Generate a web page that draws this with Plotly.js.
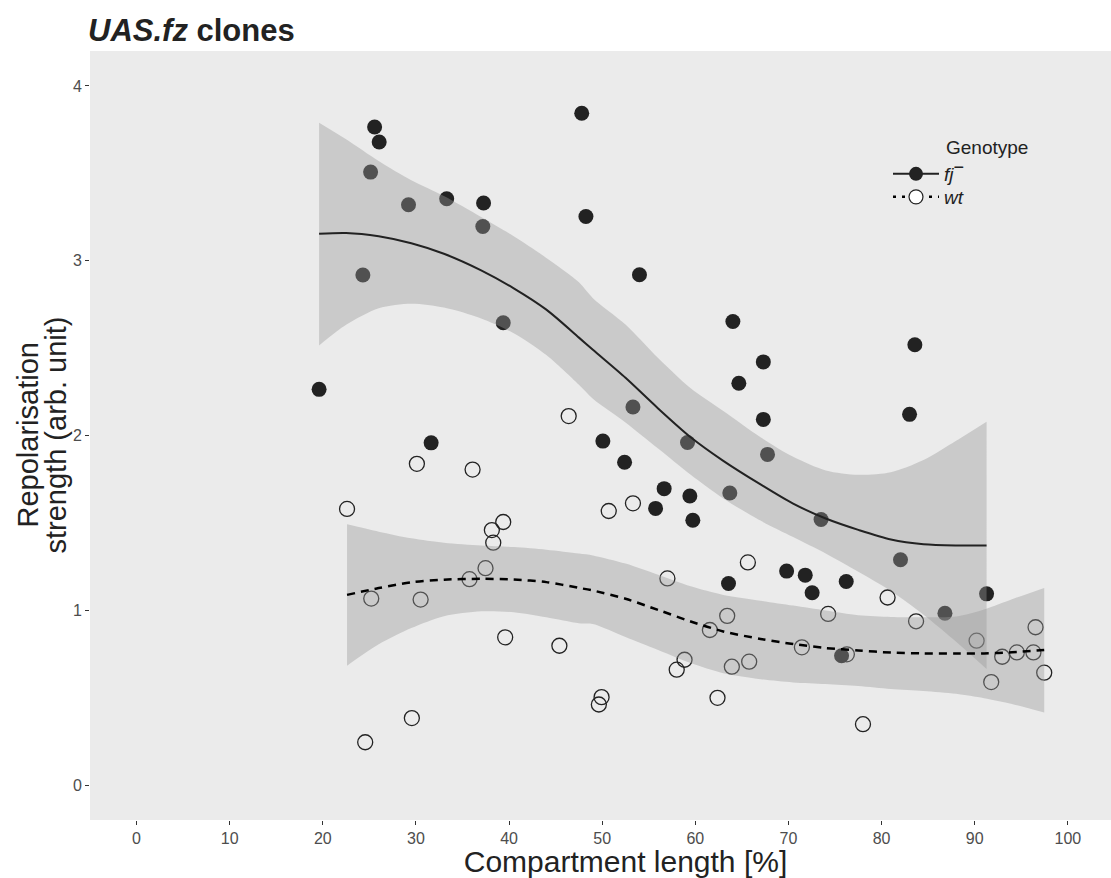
<!DOCTYPE html>
<html>
<head>
<meta charset="utf-8">
<script src="https://cdn.plot.ly/plotly-3.0.1.min.js"></script>
<style>
html,body{margin:0;padding:0;overflow:hidden;background:#fff;}
#chart{width:1162px;height:878px;}
</style>
</head>
<body>
<div id="chart"></div>
<script>
// fj- observations (compartment length %, repolarisation strength)
const fjX = [19.6,24.3,25.13,25.56,26.05,29.2,31.63,33.3,37.18,37.26,39.37,47.8,48.25,50.07,52.4,53.3,54.0,55.73,56.65,59.16,59.41,59.73,63.56,63.7,64.03,64.67,67.3,67.3,67.75,69.8,71.8,72.54,73.5,75.7,76.2,82.03,83.0,83.57,86.8,91.27];
const fjY = [2.264,2.918,3.507,3.765,3.679,3.32,1.958,3.355,3.196,3.33,2.645,3.844,3.253,1.968,1.847,2.163,2.92,1.583,1.696,1.96,1.654,1.515,1.153,1.671,2.652,2.299,2.421,2.092,1.892,1.224,1.201,1.10,1.519,0.74,1.165,1.289,2.121,2.519,0.983,1.094];
// wt observations
const wtX = [22.6,24.55,25.2,29.56,30.1,30.5,35.75,36.08,37.47,38.15,38.3,39.37,39.58,45.4,46.4,49.64,49.93,50.7,53.3,57.0,58.0,58.84,61.56,62.38,63.42,63.92,65.64,65.78,71.44,74.26,76.27,78.0,80.64,83.7,90.2,91.77,92.95,94.52,96.3,96.53,97.46];
const wtY = [1.58,0.245,1.067,0.383,1.838,1.061,1.178,1.805,1.241,1.459,1.387,1.505,0.845,0.797,2.111,0.461,0.503,1.568,1.612,1.182,0.66,0.717,0.887,0.499,0.968,0.677,1.274,0.706,0.788,0.979,0.748,0.348,1.073,0.937,0.826,0.589,0.734,0.759,0.759,0.903,0.643];

// smooth fits
const fjFitX = [19.6,22.5,26,29.5,33,37,40.5,44,47.5,49,52.5,56,59.5,63,67,70.5,74,77.5,81,84.5,88,91.27];
const fjFit  = [3.154,3.159,3.14,3.10,3.04,2.945,2.842,2.72,2.56,2.49,2.33,2.155,1.99,1.855,1.72,1.61,1.525,1.46,1.405,1.378,1.371,1.371];
const fjHi   = [3.79,3.695,3.57,3.46,3.37,3.25,3.14,3.016,2.877,2.786,2.635,2.443,2.27,2.14,1.99,1.878,1.80,1.775,1.79,1.86,1.97,2.079];
const fjLo   = [2.515,2.633,2.728,2.754,2.732,2.67,2.585,2.46,2.29,2.21,2.075,1.925,1.775,1.64,1.513,1.419,1.325,1.22,1.11,0.975,0.82,0.664];

const wtFitX = [22.6,26,29.5,33,37,40.5,44,47.5,49,52.5,56,59.5,63,67,70.5,74,77.5,81,84.5,88,91,94,97.46];
const wtFit  = [1.088,1.127,1.16,1.175,1.18,1.176,1.161,1.128,1.113,1.066,1.002,0.936,0.879,0.836,0.807,0.784,0.77,0.758,0.753,0.752,0.753,0.76,0.773];
const wtHi   = [1.492,1.45,1.412,1.387,1.371,1.362,1.347,1.325,1.314,1.267,1.203,1.137,1.088,1.055,1.027,0.999,0.972,0.962,0.96,0.965,1.005,1.063,1.128];
const wtLo   = [0.683,0.805,0.898,0.966,0.994,0.989,0.96,0.926,0.922,0.847,0.773,0.698,0.64,0.606,0.587,0.578,0.567,0.55,0.538,0.522,0.497,0.464,0.415];

const xTicks = [0,10,20,30,40,50,60,70,80,90,100];
const yTicks = [0,1,2,3,4];
const legendNames = ['<i>fj</i><sup><span style="font-size:18px">\u2212</span></sup>', '<i>wt</i>'];
const yTitleLines = ['Repolarisation', 'strength (arb. unit)'];

const ink = '#222222';
const ribbon = 'rgba(153,153,153,0.4)';
const FONT = 'Liberation Sans, Arial, Helvetica, sans-serif';

const W = 1162, H = 878, ML = 90, MR = 1, MT = 51, MB = 58;
const PW = W - ML - MR, PH = H - MT - MB;
const px2paperX = p => (p - ML) / PW;
const py2paperY = p => 1 - (p - MT) / PH;

const traces = [
  {x: fjX, y: fjY, type: 'scatter', mode: 'markers', showlegend: false, hoverinfo: 'skip',
   marker: {symbol: 'circle', size: 15, color: ink, line: {width: 0}}},
  {x: wtX, y: wtY, type: 'scatter', mode: 'markers', showlegend: false, hoverinfo: 'skip',
   marker: {symbol: 'circle-open', size: 15, color: ink, line: {width: 1.3, color: ink}}},
  {x: fjFitX, y: fjHi, type: 'scatter', mode: 'lines', showlegend: false, hoverinfo: 'skip',
   line: {width: 0, shape: 'spline', smoothing: 0.8}},
  {x: fjFitX, y: fjLo, type: 'scatter', mode: 'lines', showlegend: false, hoverinfo: 'skip', fill: 'tonexty',
   fillcolor: ribbon, line: {width: 0, shape: 'spline', smoothing: 0.8}},
  {x: wtFitX, y: wtHi, type: 'scatter', mode: 'lines', showlegend: false, hoverinfo: 'skip',
   line: {width: 0, shape: 'spline', smoothing: 0.8}},
  {x: wtFitX, y: wtLo, type: 'scatter', mode: 'lines', showlegend: false, hoverinfo: 'skip', fill: 'tonexty',
   fillcolor: ribbon, line: {width: 0, shape: 'spline', smoothing: 0.8}},
  {x: fjFitX, y: fjFit, type: 'scatter', mode: 'lines', showlegend: false, hoverinfo: 'skip',
   line: {width: 2, color: ink, shape: 'spline', smoothing: 0.8}},
  {x: wtFitX, y: wtFit, type: 'scatter', mode: 'lines', showlegend: false, hoverinfo: 'skip',
   line: {width: 2.5, color: '#000', dash: '8px,6px', shape: 'spline', smoothing: 0.8}},
  // legend entries
  {x: [null], y: [null], type: 'scatter', mode: 'lines+markers', name: legendNames[0], legend: 'legend',
   line: {width: 2, color: ink}, marker: {symbol: 'circle', size: 14, color: ink}},
  {x: [null], y: [null], type: 'scatter', mode: 'lines+markers', name: legendNames[1], legend: 'legend2',
   line: {width: 2.5, color: '#000', dash: '3px,6px'}, marker: {symbol: 'circle', size: 14, color: '#fff', line: {width: 1.2, color: ink}}}
];

const legendStyle = {xanchor: 'left', yanchor: 'top', traceorder: 'normal', bgcolor: 'rgba(0,0,0,0)',
                     font: {size: 19, color: '#222', family: FONT}, itemwidth: 46};

const layout = {
  width: W, height: H,
  margin: {l: ML, r: MR, t: MT, b: MB},
  paper_bgcolor: '#ffffff',
  plot_bgcolor: '#EBEBEB',
  font: {family: FONT, color: '#222'},
  title: {text: '<b><i>UAS.fz</i> clones</b>', font: {family: FONT, size: 31, color: '#222'},
          x: 88/W, xanchor: 'left', xref: 'container', y: 1 - 30/H, yanchor: 'middle', yref: 'container'},
  xaxis: {range: [-5, 110], tickvals: xTicks, ticktext: xTicks.map(String), showgrid: false, zeroline: false,
          showline: false, ticks: 'outside', ticklen: 4, tickwidth: 1, tickcolor: '#333',
          tickfont: {size: 16, color: '#4D4D4D', family: FONT},
          title: {text: 'Compartment length [%]', font: {size: 30, color: '#222', family: FONT}, standoff: 2}},
  yaxis: {range: [-0.2, 4.2], tickvals: yTicks, ticktext: yTicks.map(String), showgrid: false, zeroline: false,
          showline: false, ticks: 'outside', ticklen: 4, tickwidth: 1, tickcolor: '#333',
          tickfont: {size: 16, color: '#4D4D4D', family: FONT}},
  legend: Object.assign({x: px2paperX(888), y: py2paperY(155)}, legendStyle),
  legend2: Object.assign({x: px2paperX(888), y: py2paperY(178)}, legendStyle),
  annotations: [
    {text: 'Genotype', xref: 'paper', yref: 'paper', x: px2paperX(944), y: py2paperY(148),
     xanchor: 'left', yanchor: 'middle', showarrow: false, font: {size: 19, color: '#222', family: FONT}},
    {text: yTitleLines[0], xref: 'paper', yref: 'paper', x: px2paperX(27), y: 0.5, textangle: -90,
     xanchor: 'center', yanchor: 'middle', showarrow: false, font: {size: 29, color: '#222', family: FONT}},
    {text: yTitleLines[1], xref: 'paper', yref: 'paper', x: px2paperX(55), y: 0.5, textangle: -90,
     xanchor: 'center', yanchor: 'middle', showarrow: false, font: {size: 29, color: '#222', family: FONT}}
  ],
  showlegend: true
};

Plotly.newPlot('chart', traces, layout, {displayModeBar: false, staticPlot: true});
</script>
</body>
</html>
